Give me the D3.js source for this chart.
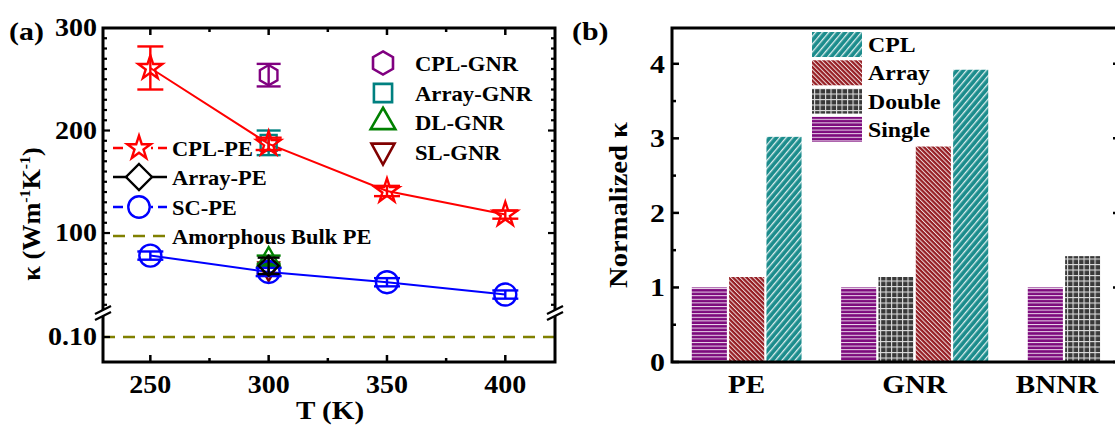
<!DOCTYPE html>
<html><head><meta charset="utf-8">
<script src="https://cdn.jsdelivr.net/npm/d3@7"></script>
<style>
html,body{margin:0;padding:0;background:#fff;}
svg{display:block;font-family:"Liberation Serif","Times New Roman",serif;font-weight:bold;}
</style></head>
<body><svg id="c" width="1115" height="425"></svg>
<script>
// ---------- data: panel (a) ----------
const temps = [250, 300, 350, 400];
const cplPE = [261, 187, 141, 118];
const cplPEErr = [21, 6, 5, 4];
const scPE = [78, 62, 52, 40];
const scPEErr = [4, 4, 4, 4];
const arrayPE_T = 300, arrayPE_K = 68, arrayPE_Err = 8;
const gnrNames = ["CPL-GNR", "Array-GNR", "DL-GNR", "SL-GNR"];
const gnrT = [300, 300, 300, 300];
const gnrK = [254, 188, 74, 64];
const gnrErr = [11, 12, 4, 4];
const bulkPE = 0.10;
const xTicksA = [250, 300, 350, 400];
const yTicksUpper = [100, 200, 300];
const yTicksLower = [0.10];
const peLegend = ["CPL-PE", "Array-PE", "SC-PE", "Amorphous Bulk PE"];

// ---------- data: panel (b) ----------
const groups = ["PE", "GNR", "BNNR"];
const barGroup = ["PE", "PE", "PE", "GNR", "GNR", "GNR", "GNR", "BNNR", "BNNR"];
const barType = ["Single", "Array", "CPL", "Single", "Double", "Array", "CPL", "Single", "Double"];
const barValue = [1.00, 1.14, 3.02, 1.00, 1.14, 2.89, 3.92, 1.00, 1.42];
const barLegend = ["CPL", "Array", "Double", "Single"];
const yTicksB = [0, 1, 2, 3, 4];

const svg = d3.select("#c");
const defs = svg.append("defs");

function txt(g, x, y, s, size, anchor, sx) {
  return g.append("text").attr("transform", `translate(${x},${y}) scale(${sx || 1},1)`)
    .attr("text-anchor", anchor || "start").attr("font-size", size).text(s);
}

// ---------- patterns ----------
function stripePattern(id, bg, angle, spacing, w) {
  const p = defs.append("pattern").attr("id", id).attr("patternUnits", "userSpaceOnUse")
    .attr("width", spacing).attr("height", spacing).attr("patternTransform", `rotate(${angle})`);
  p.append("rect").attr("width", spacing).attr("height", spacing).attr("fill", bg);
  p.append("rect").attr("x", 0).attr("y", 0).attr("width", w).attr("height", spacing).attr("fill", "#fff").attr("opacity", 0.85);
}
stripePattern("pCPL", "#1b8c8c", 40, 5, 1.3);
stripePattern("pArray", "#951c22", -45, 3.2, 1.0);
stripePattern("pSingle", "#7d0a7d", 90, 3.6, 1.0);
(function () {
  const s = 5.5;
  const p = defs.append("pattern").attr("id", "pDouble").attr("patternUnits", "userSpaceOnUse")
    .attr("width", s).attr("height", s);
  p.append("rect").attr("width", s).attr("height", s).attr("fill", "#393939");
  p.append("rect").attr("x", 0).attr("y", 0).attr("width", 1.1).attr("height", s).attr("fill", "#ddd");
  p.append("rect").attr("x", 0).attr("y", 0).attr("width", s).attr("height", 1.1).attr("fill", "#ddd");
})();
const patFill = { CPL: "url(#pCPL)", Array: "url(#pArray)", Double: "url(#pDouble)", Single: "url(#pSingle)" };

// ================= Panel (a) =================
const aL = 103, aR = 555, aT = 28, aB = 362, brk = 313;
const xA = d3.scaleLinear().domain([230, 421]).range([aL, aR]);
const yU = d3.scaleLinear().domain([22, 300]).range([brk, aT]);
const yLo = d3.scaleLinear().domain([0.09, 0.1096]).range([aB, brk]);
const ya = v => v >= 1 ? yU(v) : yLo(v);

const gA = svg.append("g");
const red = "#ff0000", blue = "#0000ff", olive = "#808000";

gA.append("line").attr("x1", aL).attr("x2", aR).attr("y1", ya(bulkPE)).attr("y2", ya(bulkPE))
  .attr("stroke", olive).attr("stroke-width", 2.5).attr("stroke-dasharray", "12,8");

const lineA = d3.line().x(d => xA(d[0])).y(d => ya(d[1]));
gA.append("path").attr("d", lineA(temps.map((t, i) => [t, cplPE[i]]))).attr("fill", "none").attr("stroke", red).attr("stroke-width", 2);
gA.append("path").attr("d", lineA(temps.map((t, i) => [t, scPE[i]]))).attr("fill", "none").attr("stroke", blue).attr("stroke-width", 2);

function errBar(g, t, v, e, color, cap) {
  const x = xA(t);
  g.append("line").attr("x1", x).attr("x2", x).attr("y1", ya(v - e)).attr("y2", ya(v + e)).attr("stroke", color).attr("stroke-width", 2.4);
  [v - e, v + e].forEach(yy => g.append("line").attr("x1", x - cap / 2).attr("x2", x + cap / 2)
    .attr("y1", ya(yy)).attr("y2", ya(yy)).attr("stroke", color).attr("stroke-width", 2.4));
}
function hexPath(r) {
  const pts = d3.range(6).map(i => { const a = Math.PI / 3 * i - Math.PI / 2; return [r * Math.cos(a), r * Math.sin(a)]; });
  return "M" + pts.map(p => p.join(",")).join("L") + "Z";
}
const markers = {
  star: s => d3.symbol().type(d3.symbolStar).size(180 * s)(),
  hex: s => hexPath(11 * Math.sqrt(s)),
  square: s => d3.symbol().type(d3.symbolSquare).size(300 * s)(),
  tri: s => d3.symbol().type(d3.symbolTriangle).size(240 * s)(),
  dtri: s => { const k = Math.sqrt(s); return `M${-11 * k},${-8 * k}L${11 * k},${-8 * k}L0,${12 * k}Z`; },
  diamond: s => { const k = Math.sqrt(s); return `M0,${-13 * k}L${13 * k},0L0,${13 * k}L${-13 * k},0Z`; },
  circle: s => d3.symbol().type(d3.symbolCircle).size(380 * s)()
};
function marker(g, x, y, kind, color, sw, s) {
  g.append("path").attr("d", markers[kind](s || 1)).attr("transform", `translate(${x},${y})`)
    .attr("fill", "none").attr("stroke", color).attr("stroke-width", sw || 2.4);
}

const gnrColors = ["#800080", "#008080", "#008000", "#800000"];
const gnrKinds = ["hex", "square", "tri", "dtri"];
[3, 2, 0, 1].forEach(i => {
  errBar(gA, gnrT[i], gnrK[i], gnrErr[i], gnrColors[i], 24);
  marker(gA, xA(gnrT[i]), ya(gnrK[i]), gnrKinds[i], gnrColors[i], 2.4, 0.85);
});
temps.forEach((t, i) => { marker(gA, xA(t), ya(scPE[i]), "circle", blue); errBar(gA, t, scPE[i], scPEErr[i], blue, 26); });
errBar(gA, arrayPE_T, arrayPE_K, arrayPE_Err, "#000", 22);
marker(gA, xA(arrayPE_T), ya(arrayPE_K), "diamond", "#000", 2.4, 0.6);
temps.forEach((t, i) => { errBar(gA, t, cplPE[i], cplPEErr[i], red, 26); marker(gA, xA(t), ya(cplPE[i]), "star", red); });

// frame & ticks
const axA = svg.append("g");
axA.append("rect").attr("x", aL).attr("y", aT).attr("width", aR - aL).attr("height", aB - aT)
  .attr("fill", "none").attr("stroke", "#000").attr("stroke-width", 3);
const xMinorA = [275, 325, 375];
xTicksA.forEach(t => {
  axA.append("line").attr("x1", xA(t)).attr("x2", xA(t)).attr("y1", aB).attr("y2", aB - 7).attr("stroke", "#000").attr("stroke-width", 2.5);
  axA.append("line").attr("x1", xA(t)).attr("x2", xA(t)).attr("y1", aT).attr("y2", aT + 7).attr("stroke", "#000").attr("stroke-width", 2.5);
  txt(axA, xA(t), aB + 31, t, 25, "middle", 1.12);
});
xMinorA.forEach(t => {
  axA.append("line").attr("x1", xA(t)).attr("x2", xA(t)).attr("y1", aB).attr("y2", aB - 4).attr("stroke", "#000").attr("stroke-width", 2.5);
  axA.append("line").attr("x1", xA(t)).attr("x2", xA(t)).attr("y1", aT).attr("y2", aT + 4).attr("stroke", "#000").attr("stroke-width", 2.5);
});
d3.range(30, 300, 10).forEach(v => {
  const major = yTicksUpper.includes(v);
  const len = major ? 7 : 4;
  axA.append("line").attr("x1", aL).attr("x2", aL + len).attr("y1", yU(v)).attr("y2", yU(v)).attr("stroke", "#000").attr("stroke-width", 2.2);
  axA.append("line").attr("x1", aR).attr("x2", aR - len).attr("y1", yU(v)).attr("y2", yU(v)).attr("stroke", "#000").attr("stroke-width", 2.2);
});
yTicksUpper.forEach(v => txt(axA, aL - 6, yU(v) + 8, v, 25, "end", 1.12));
yTicksLower.forEach(v => {
  axA.append("line").attr("x1", aL).attr("x2", aL + 7).attr("y1", yLo(v)).attr("y2", yLo(v)).attr("stroke", "#000").attr("stroke-width", 2.2);
  txt(axA, aL - 6, yLo(v) + 8, v.toFixed(2), 25, "end", 1.12);
});
[aL, aR].forEach(x => {
  axA.append("rect").attr("x", x - 8).attr("y", brk - 3).attr("width", 16).attr("height", 6).attr("fill", "#fff");
  [-3, 3].forEach(dy => axA.append("line").attr("x1", x - 8).attr("x2", x + 8).attr("y1", brk + dy + 4).attr("y2", brk + dy - 4)
    .attr("stroke", "#000").attr("stroke-width", 2.2));
});
txt(axA, 330, 419, "T (K)", 26, "middle", 1.12);
const yt = axA.append("text").attr("transform", "translate(40,214) rotate(-90) scale(1.05,1)").attr("text-anchor", "middle").attr("font-size", 25);
yt.append("tspan").text("κ (Wm");
yt.append("tspan").attr("font-size", 15).attr("dy", -10).text("-1");
yt.append("tspan").attr("dy", 10).text("K");
yt.append("tspan").attr("font-size", 15).attr("dy", -10).text("-1");
yt.append("tspan").attr("dy", 10).text(")");
txt(svg, 9, 40, "(a)", 26, "start", 1.15);

// legend (PE)
const legPE = svg.append("g");
const lgY = [148, 177, 207, 236];
const lgColors = [red, "#000", blue, olive];
const lgKinds = ["star", "diamond", "circle", null];
peLegend.forEach((name, i) => {
  const y = lgY[i];
  if (i === 3) {
    legPE.append("line").attr("x1", 113).attr("x2", 167).attr("y1", y).attr("y2", y).attr("stroke", olive).attr("stroke-width", 2.5).attr("stroke-dasharray", "12,8");
  } else {
    legPE.append("line").attr("x1", 113).attr("x2", 167).attr("y1", y).attr("y2", y).attr("stroke", lgColors[i]).attr("stroke-width", 2.4)
      .attr("stroke-dasharray", i === 1 ? null : "10,5");
    legPE.append("rect").attr("x", 128).attr("y", y - 13).attr("width", 23).attr("height", 26).attr("fill", "#fff");
    marker(legPE, 139, y, lgKinds[i], lgColors[i], 2.4, i === 1 ? 1 : 0.95);
  }
  txt(legPE, 172, y + 8, name, 22, "start", 1.02);
});
// legend (GNR)
const legG = svg.append("g");
const lgGY = [63, 93, 122, 152];
gnrNames.forEach((name, i) => {
  marker(legG, 383, lgGY[i], gnrKinds[i], gnrColors[i], 2.6, 1.1);
  txt(legG, 415, lgGY[i] + 8, name, 22, "start", 1.03);
});

// ================= Panel (b) =================
const bL = 672, bR = 1120, bT = 28, bB = 362;
let slot = 0; const barSlot = [];
barGroup.forEach((g, i) => { if (i === 0 || g !== barGroup[i - 1]) slot += 1; slot += (i === 0 ? 0 : 1); barSlot.push(slot); });
const xB = d3.scaleLinear().domain([0, 12]).range([bL, bR]);
const yB = d3.scaleLinear().domain([0, 4.48]).range([bB, bT]);
const bw = (xB(1) - xB(0)) * 0.94;
const gB = svg.append("g");
barValue.forEach((v, i) => {
  gB.append("rect").attr("x", xB(barSlot[i]) - bw / 2).attr("y", yB(v)).attr("width", bw).attr("height", yB(0) - yB(v))
    .attr("fill", patFill[barType[i]]);
});
groups.forEach(g => {
  const s = barSlot.filter((_, i) => barGroup[i] === g);
  txt(gB, xB(d3.mean(s)) - (g === "BNNR" ? 7 : 0), 393, g, 26, "middle", 1.12);
});
const axB = svg.append("g");
axB.append("rect").attr("x", bL).attr("y", bT).attr("width", bR - bL).attr("height", bB - bT)
  .attr("fill", "none").attr("stroke", "#000").attr("stroke-width", 3);
d3.range(0, 4.5, 0.5).forEach(v => {
  const major = Number.isInteger(v);
  const len = major ? 7 : 4;
  axB.append("line").attr("x1", bL).attr("x2", bL + len).attr("y1", yB(v)).attr("y2", yB(v)).attr("stroke", "#000").attr("stroke-width", 2.5);
  axB.append("line").attr("x1", bR).attr("x2", bR - len).attr("y1", yB(v)).attr("y2", yB(v)).attr("stroke", "#000").attr("stroke-width", 2.5);
});
yTicksB.forEach(v => txt(axB, bL - 7, yB(v) + 9, v, 26, "end", 1.15));
axB.append("text").attr("transform", "translate(627,205) rotate(-90) scale(1.1,1)").attr("text-anchor", "middle").attr("font-size", 26).text("Normalized κ");
txt(svg, 572, 40, "(b)", 26, "start", 1.15);
const lgB = svg.append("g");
barLegend.forEach((name, i) => {
  const y = 32 + i * 28.3;
  lgB.append("rect").attr("x", 812).attr("y", y).attr("width", 50).attr("height", 25).attr("fill", patFill[name]);
  txt(lgB, 868, y + 20, name, 22, "start", 1.08);
});
</script></body></html>
